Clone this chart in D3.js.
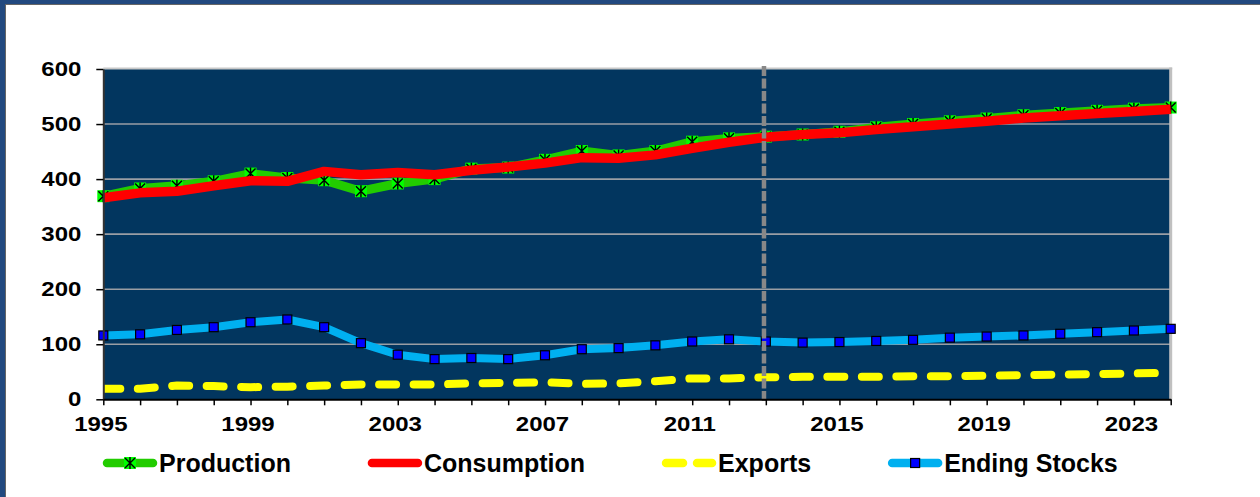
<!DOCTYPE html>
<html>
<head>
<meta charset="utf-8">
<script src="https://cdn.jsdelivr.net/npm/d3@7"></script>
<style>
  body { margin: 0; background: #fff; }
  svg { display: block; }
  text { font-family: "Liberation Sans", Arial, sans-serif; font-weight: bold; fill: #000; }
</style>
</head>
<body>
<svg width="1260" height="497"></svg>
<script>
// values (million tons, marketing years)
var years = d3.range(1995, 2025);
var production = [369, 383, 388, 396, 410, 402, 398, 378, 392, 400, 419, 421, 435, 451, 443,
                  451, 468, 474, 477, 481, 486, 494, 500, 505, 510, 516, 520, 524, 528, 530];
var consumption = [366, 375, 378, 388, 397, 396, 414, 408, 412, 408, 416, 422, 429, 439, 438,
                   444, 456, 467, 476, 481, 484, 490, 495, 500, 505, 511, 515, 519, 523, 527];
var exportsV = [19, 19, 25, 24, 22, 23, 25, 27, 27, 27, 29, 30, 31, 28, 29,
                33, 38, 38, 40, 41, 41, 41, 42, 42, 43, 44, 45, 46, 47, 48];
var stocks = [116, 118, 126, 131, 140, 145, 131, 102, 81, 73, 75, 73, 80, 91, 93,
              98, 105, 109, 105, 103, 104, 106, 108, 112, 114, 116, 119, 122, 125, 128];
var yTicks = [0, 100, 200, 300, 400, 500, 600];
var labelYears = [1995, 1999, 2003, 2007, 2011, 2015, 2019, 2023];
var projectionStart = 2012.95; // dashed divider
var legendNames = ["Production", "Consumption", "Exports", "Ending Stocks"];

var svg = d3.select("svg");

// slide frame (blue band top + left)
svg.append("rect").attr("x", 0).attr("y", 0).attr("width", 1260).attr("height", 4).attr("fill", "#22497f");
svg.append("rect").attr("x", 0).attr("y", 0).attr("width", 5).attr("height", 497).attr("fill", "#22497f");
svg.append("line").attr("x1", 5).attr("x2", 1260).attr("y1", 4.5).attr("y2", 4.5).attr("stroke", "#666").attr("stroke-width", 1);
svg.append("line").attr("x1", 5.5).attr("x2", 5.5).attr("y1", 4).attr("y2", 497).attr("stroke", "#666").attr("stroke-width", 1);

var plotL = 103.3, plotR = 1170.7, plotT = 69, plotB = 399.3;

var xScale = d3.scaleLinear().domain([1995, 2024]).range([plotL, plotR]);
var yScale = d3.scaleLinear().domain([0, 600]).range([plotB, plotT]);

// plot background
svg.append("rect")
    .attr("x", plotL).attr("y", plotT)
    .attr("width", plotR - plotL).attr("height", plotB - plotT)
    .attr("fill", "#02365f");

// gridlines
svg.selectAll(".grid").data(yTicks.slice(1, 6)).enter().append("line")
    .attr("x1", plotL).attr("x2", plotR)
    .attr("y1", function(d) { return yScale(d); })
    .attr("y2", function(d) { return yScale(d); })
    .attr("stroke", "#9a9ea4").attr("stroke-width", 1.6);

// top + right border of the plot
svg.append("line").attr("x1", plotL).attr("x2", plotR + 1.5).attr("y1", plotT - 0.5).attr("y2", plotT - 0.5)
    .attr("stroke", "#c8c8c8").attr("stroke-width", 2);
svg.append("line").attr("x1", plotR).attr("x2", plotR).attr("y1", plotT - 1.5).attr("y2", plotB)
    .attr("stroke", "#c0c0c0").attr("stroke-width", 3);

svg.append("clipPath").attr("id", "plotClip").append("rect")
    .attr("x", plotL).attr("y", plotT - 20).attr("width", plotR - plotL + 3).attr("height", plotB - plotT + 20);

var lineGen = d3.line()
    .x(function(d, i) { return xScale(years[i]); })
    .y(function(d) { return yScale(d); });

var lines = svg.append("g").attr("clip-path", "url(#plotClip)");

function drawLine(g, values, color, width, dash) {
    var p = g.append("path")
        .attr("d", lineGen(values))
        .attr("fill", "none")
        .attr("stroke", color)
        .attr("stroke-width", width)
        .attr("stroke-linejoin", "round");
    if (dash) {
        p.attr("stroke-dasharray", dash).attr("stroke-linecap", "round");
    }
    return p;
}

function prodMarker(g, x, y) {
    g.append("rect").attr("x", x - 6).attr("y", y - 6).attr("width", 12).attr("height", 12).attr("fill", "#00ff00");
    g.append("path")
        .attr("d", "M" + (x - 5) + "," + (y - 5) + "L" + (x + 5) + "," + (y + 5) +
                   "M" + (x - 5) + "," + (y + 5) + "L" + (x + 5) + "," + (y - 5) +
                   "M" + x + "," + (y - 6) + "L" + x + "," + (y + 6))
        .attr("stroke", "#000").attr("stroke-width", 1.4).attr("fill", "none");
}

function stockMarker(g, x, y) {
    g.append("rect").attr("x", x - 4.5).attr("y", y - 4.5).attr("width", 9).attr("height", 9)
        .attr("fill", "#0000ff").attr("stroke", "#000").attr("stroke-width", 1.2);
}

// exports
drawLine(lines, exportsV, "#ffff00", 8, "17,17.5");
// ending stocks
drawLine(lines, stocks, "#00b0f0", 8);
var stockG = svg.append("g");
stocks.forEach(function(d, i) { stockMarker(stockG, xScale(years[i]), yScale(d)); });

// production + markers, then consumption on top
drawLine(lines, production, "#22cc00", 9);
var prodG = svg.append("g");
production.forEach(function(d, i) { prodMarker(prodG, xScale(years[i]), yScale(d)); });
var lines2 = svg.append("g").attr("clip-path", "url(#plotClip)");
drawLine(lines2, consumption, "#ff0000", 9.5);

// projection divider
svg.append("line")
    .attr("x1", xScale(projectionStart)).attr("x2", xScale(projectionStart))
    .attr("y1", plotT - 3).attr("y2", plotB + 3)
    .attr("stroke", "#888").attr("stroke-width", 4.5)
    .attr("stroke-dasharray", "10,2.5");

// axes
var yAxis = d3.axisLeft(yScale).tickValues(yTicks).tickSize(7).tickSizeOuter(0).tickPadding(0);
var yG = svg.append("g").attr("transform", "translate(" + plotL + ",0)").call(yAxis);
yG.select(".domain").attr("stroke", "#333").attr("stroke-width", 2);
yG.selectAll(".tick line").attr("stroke", "#000").attr("stroke-width", 1.5);
yG.selectAll(".tick text")
    .attr("x", -22 / 1.2)
    .attr("transform", "scale(1.2,1)")
    .style("font-size", "20px");

var xAxis = d3.axisBottom(xScale).tickValues(years).tickSize(6).tickSizeOuter(0)
    .tickFormat(function(d) { return labelYears.indexOf(d) >= 0 ? d : ""; });
var xG = svg.append("g").attr("transform", "translate(0," + plotB + ")").call(xAxis);
xG.select(".domain").attr("stroke", "#000").attr("stroke-width", 2);
xG.selectAll(".tick line").attr("stroke", "#000").attr("stroke-width", 1.5);
xG.selectAll(".tick text")
    .attr("x", -3 / 1.2)
    .attr("y", 18)
    .attr("transform", "scale(1.2,1)")
    .style("font-size", "20px");

// legend
var legend = svg.append("g");
var lx = 103, ly = 463;
legendNames.forEach(function(name, i) {
    var x0 = lx, x1 = lx + 54;
    var ln = legend.append("line")
        .attr("x1", x0 + 4).attr("x2", x1 - 4).attr("y1", ly).attr("y2", ly)
        .attr("stroke-width", 8.5).attr("stroke-linecap", "round");
    if (i === 0) {
        ln.attr("stroke", "#22cc00");
        prodMarker(legend, (x0 + x1) / 2, ly);
    } else if (i === 1) {
        ln.attr("stroke", "#ff0000");
    } else if (i === 2) {
        ln.attr("stroke", "#ffff00").attr("stroke-dasharray", "17,14");
    } else {
        ln.attr("stroke", "#00b0f0");
        stockMarker(legend, (x0 + x1) / 2, ly);
    }
    var t = legend.append("text")
        .attr("x", x1 + 2).attr("y", ly + 8.5)
        .style("font-size", "25px")
        .text(name);
    lx = x1 + 2 + t.node().getComputedTextLength() + 77;
});
</script>
</body>
</html>
